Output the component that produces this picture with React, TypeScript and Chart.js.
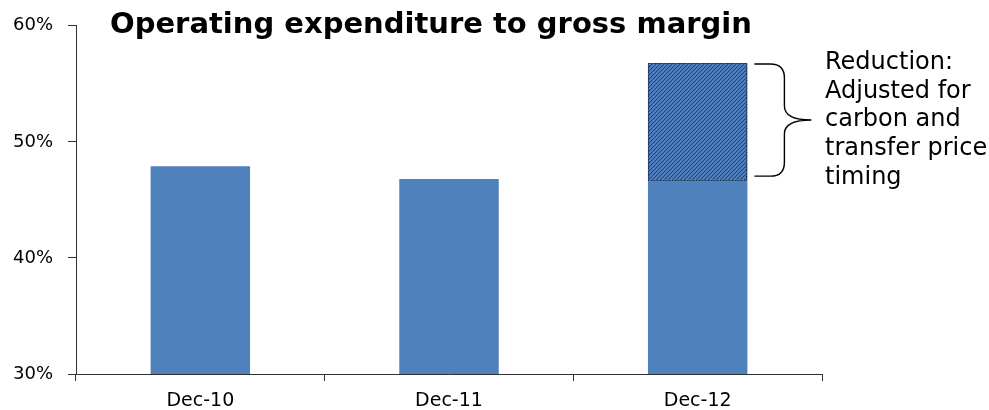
import React, { useEffect, useRef } from "react";
import { Chart, registerables } from "chart.js";

Chart.register(...registerables);

// Chart content
const TITLE = "Operating expenditure to gross margin";
const CATEGORIES = ["Dec-10", "Dec-11", "Dec-12"];
const OPEX_RATIO = [47.9, 46.8, 46.7];
const REDUCTION = [null, null, 10.1];
const Y_TICKS = [30, 40, 50, 60];
const NOTE_LINES = ["Reduction:", "Adjusted for", "carbon and", "transfer price", "timing"];

const BAR_BLUE = "#4F81BD";
const HATCH_DARK = "#24467A";
const AXIS_COLOR = "#303030";

function makeHatch(): CanvasPattern | string {
  const tile = document.createElement("canvas");
  tile.width = 4;
  tile.height = 4;
  const t = tile.getContext("2d");
  if (!t) return BAR_BLUE;
  t.fillStyle = "#4F80BF";
  t.fillRect(0, 0, 4, 4);
  t.fillStyle = HATCH_DARK;
  for (let i = 0; i < 4; i++) t.fillRect(3 - i, i, 1, 1);
  t.fillStyle = "rgba(36,70,122,0.25)";
  for (let i = 0; i < 4; i++) t.fillRect((4 - i) % 4, i, 1, 1);
  const p = t.createPattern(tile, "repeat");
  return p || BAR_BLUE;
}

// Title, hatched-bar outline, brace and side note
const decorations = {
  id: "decorations",
  afterDatasetsDraw(chart: any) {
    const ctx = chart.ctx as CanvasRenderingContext2D;
    const meta = chart.getDatasetMeta(1);
    const bar = meta.data[2] as any;
    if (!bar) return;
    const { x, y, base, width } = bar.getProps(["x", "y", "base", "width"], true);
    const left = x - width / 2;
    const right = x + width / 2;

    ctx.save();
    // dashed outline around the reduction segment
    ctx.strokeStyle = "#17304f";
    ctx.lineWidth = 1;
    ctx.setLineDash([2, 1]);
    ctx.strokeRect(Math.round(left) + 0.5, Math.round(y) + 0.5, Math.round(right - left) - 1, Math.round(base - y));
    ctx.setLineDash([]);

    // curly brace spanning the reduction
    const top = y + 1;
    const bot = base - 4;
    const mid = (top + bot) / 2;
    const bx0 = right + 7;
    const bx1 = bx0 + 30;
    const bx2 = bx0 + 57;
    const r = 14;
    ctx.strokeStyle = "#000";
    ctx.lineWidth = 1.4;
    ctx.beginPath();
    ctx.moveTo(bx0, top);
    ctx.lineTo(bx1 - r, top);
    ctx.quadraticCurveTo(bx1, top, bx1, top + r);
    ctx.lineTo(bx1, mid - r);
    ctx.quadraticCurveTo(bx1, mid, bx2, mid);
    ctx.quadraticCurveTo(bx1, mid, bx1, mid + r);
    ctx.lineTo(bx1, bot - r);
    ctx.quadraticCurveTo(bx1, bot, bx1 - r, bot);
    ctx.lineTo(bx0, bot);
    ctx.stroke();

    // side note
    ctx.fillStyle = "#000";
    ctx.font = "24px 'DejaVu Sans'";
    ctx.textAlign = "left";
    ctx.textBaseline = "alphabetic";
    NOTE_LINES.forEach((line, i) => {
      ctx.fillText(line, 825, 69 + i * 28.7);
    });

    // title
    ctx.font = "bold 29px 'DejaVu Sans'";
    ctx.fillText(TITLE, 110, 33);
    ctx.restore();
  },
};

export default function App() {
  const canvasRef = useRef<HTMLCanvasElement | null>(null);

  useEffect(() => {
    const canvas = canvasRef.current;
    if (!canvas) return;
    const hatch = makeHatch();

    const chart = new Chart(canvas, {
      type: "bar",
      data: {
        labels: CATEGORIES,
        datasets: [
          {
            label: "Operating expenditure to gross margin",
            data: OPEX_RATIO,
            backgroundColor: BAR_BLUE,
            borderWidth: 0,
            categoryPercentage: 1,
            barPercentage: 0.4,
          },
          {
            label: "Reduction",
            data: REDUCTION as any,
            backgroundColor: hatch as any,
            borderWidth: 0,
            categoryPercentage: 1,
            barPercentage: 0.4,
          },
        ],
      },
      plugins: [decorations],
      options: {
        responsive: false,
        animation: false,
        devicePixelRatio: 1,
        layout: { padding: { top: 24, right: 167, left: 0, bottom: 0 } },
        plugins: {
          legend: { display: false },
          title: { display: false },
          tooltip: { enabled: false },
        },
        scales: {
          x: {
            stacked: true,
            afterFit: (s: any) => {
              s.height = 36;
            },
            border: { display: true, color: AXIS_COLOR, width: 1 },
            grid: {
              display: true,
              offset: true,
              drawOnChartArea: false,
              drawTicks: true,
              tickLength: 7,
              color: AXIS_COLOR,
            },
            ticks: {
              color: "#000",
              padding: 9,
              font: { family: "'DejaVu Sans'", size: 19 },
              maxRotation: 0,
            },
          },
          y: {
            stacked: true,
            min: 30,
            max: 60,
            afterFit: (s: any) => {
              s.width = 76;
            },
            afterBuildTicks: (s: any) => {
              s.ticks = Y_TICKS.map((v) => ({ value: v }));
            },
            border: { display: true, color: AXIS_COLOR, width: 1 },
            grid: {
              display: true,
              drawOnChartArea: false,
              drawTicks: true,
              tickLength: 8,
              color: AXIS_COLOR,
            },
            ticks: {
              color: "#000",
              padding: 15,
              font: { family: "'DejaVu Sans'", size: 18 },
              callback: (v: any) => `${v}%`,
            },
          },
        },
      },
    });
    return () => chart.destroy();
  }, []);

  return (
    <div style={{ position: "fixed", left: 0, top: 0, width: 989, height: 410, background: "#fff" }}>
      <canvas ref={canvasRef} width={989} height={410} style={{ width: 989, height: 410, display: "block" }} />
    </div>
  );
}
